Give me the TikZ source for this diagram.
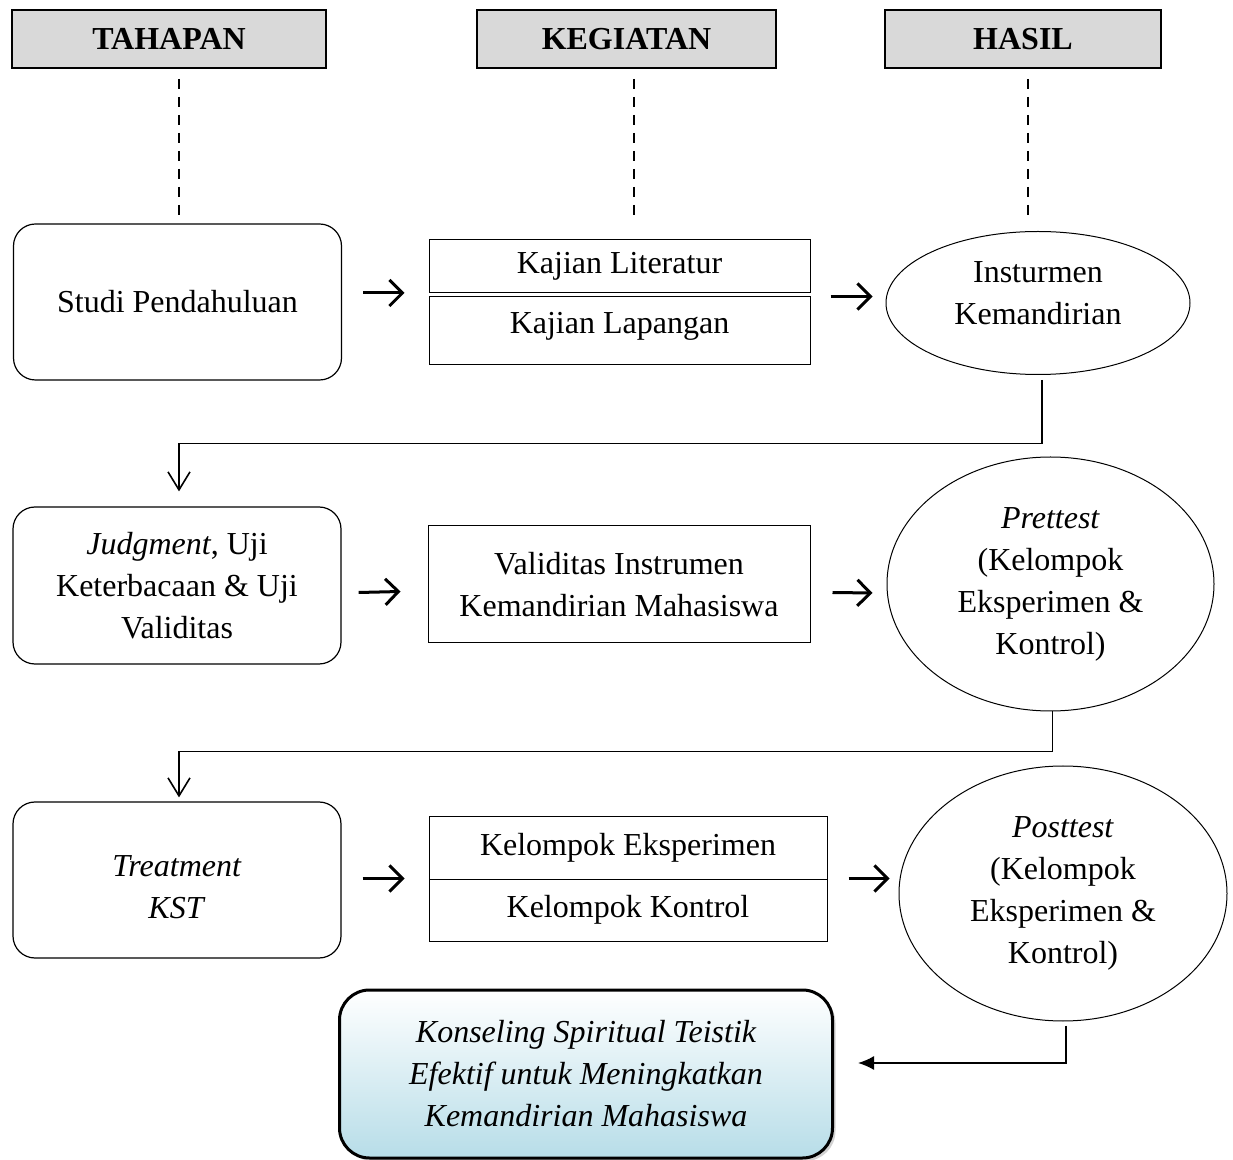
\documentclass[tikz,border=0pt]{standalone}
\usepackage{fontspec}
\setmainfont{Liberation Serif}
\usepackage{tikz}
\usetikzlibrary{
  arrows.meta,
  positioning,
  calc,
  shapes.geometric,
  shadows
}
\definecolor{headgray}{HTML}{D9D9D9}
\definecolor{paleblue}{HTML}{B7DDE8}

\begin{document}
\begin{tikzpicture}[
    x=0.5pt,
    y=-0.5pt,
    font=\fontsize{16}{21}\selectfont,
    header/.style={draw,line width=1pt,fill=headgray,font=\fontsize{16}{21}\selectfont\bfseries,minimum height=29pt,inner sep=0pt},
    stage/.style={draw,line width=0.6pt,rounded corners=11pt,align=center,minimum width=164pt,minimum height=78pt,inner sep=0pt},
    task/.style={draw,line width=0.5pt,align=center,inner sep=0pt},
    result/.style={draw,ellipse,line width=0.5pt,align=center,inner sep=0pt},
    caption/.style={align=center,inner sep=0pt},
    guide/.style={line width=1pt,dash pattern=on 5pt off 4pt},
    flow/.style={line width=1.5pt,-{Straight Barb[length=6.5pt,width=13pt]}},
    elbow/.style={line width=0.8pt,-{Straight Barb[length=9pt,width=11pt]}},
    >=Latex
    ]

    \useasboundingbox (0,0) rectangle (1233,1160);

    \node[header,minimum width=157pt] (tahapan) at (169,39) {TAHAPAN};
    \node[header,minimum width=149.5pt] (kegiatan) at (626.5,39) {KEGIATAN};
    \node[header,minimum width=138pt] (hasil) at (1023,39) {HASIL};

    \node[stage] (studi) at (177.5,302) {Studi Pendahuluan};
    \node[task,minimum width=190.5pt,minimum height=26.5pt] (literatur) at (619.5,266) {Kajian Literatur};
    \node[task,minimum width=190.5pt,minimum height=34pt] (lapangan) at (619.5,331) {};
    \node[caption] (lapangan-text) at (619.5,326) {Kajian Lapangan};
    \node[result,minimum width=152pt,minimum height=71.5pt] (instrumen) at (1038,303) {};
    \node[caption] (instrumen-text) at (1038,293.5) {Insturmen\\Kemandirian};

    \node[stage,minimum height=78.5pt] (judgment) at (177,585.5) {\textit{Judgment}, Uji\\Keterbacaan \& Uji\\Validitas};
    \node[task,minimum width=191pt,minimum height=58.5pt] (validitas) at (619,584.5) {Validitas Instrumen\\Kemandirian Mahasiswa};
    \node[result,minimum width=163.5pt,minimum height=127pt] (prettest) at (1050.5,584) {\textit{Prettest}\\(Kelompok\\Eksperimen \&\\Kontrol)};

    \node[stage] (treatment) at (177,880) {};
    \node[caption] (treatment-text) at (177,887) {\textit{Treatment}\\\textit{KST}};
    \node[task,minimum width=199pt,minimum height=31.5pt] (eksperimen) at (628,847.5) {Kelompok Eksperimen};
    \node[task,minimum width=199pt,minimum height=31pt] (kontrol) at (628,910) {Kelompok Kontrol};
    \node[result,minimum width=164pt,minimum height=127.5pt] (posttest) at (1063,893.5) {\textit{Posttest}\\(Kelompok\\Eksperimen \&\\Kontrol)};

    \node[stage,line width=1.5pt,rounded corners=15pt,minimum width=246.5pt,minimum height=84pt,
      top color=white,bottom color=paleblue,
      drop shadow={shadow xshift=1.5pt,shadow yshift=-1.5pt,fill=black!35},
      font=\fontsize{16}{21}\selectfont\itshape] (simpulan) at (586,1074)
      {Konseling Spiritual Teistik\\Efektif untuk Meningkatkan\\Kemandirian Mahasiswa};

    \draw[guide] ([xshift=5pt,yshift=-5pt]tahapan.south) -- ++(0,-70.5pt);
    \draw[guide] ([xshift=3.5pt,yshift=-5pt]kegiatan.south) -- ++(0,-70.5pt);
    \draw[guide] ([xshift=2.5pt,yshift=-5pt]hasil.south) -- ++(0,-70.5pt);

    \draw[flow] ([xshift=10.5pt]studi.east |- literatur.south) -- ([xshift=-12pt]literatur.west |- literatur.south);
    \draw[flow] ([xshift=10pt]literatur.east |- lapangan.north) -- ([xshift=-6.5pt]instrumen.west |- lapangan.north);

    \draw[flow] ([xshift=8.5pt,yshift=-3.5pt]judgment.east) -- ([xshift=-13.5pt,yshift=-3.5pt]validitas.west);
    \draw[flow] ([xshift=11pt,yshift=-4pt]validitas.east) -- ([xshift=-7pt,yshift=-4.5pt]prettest.west);

    \draw[flow] ([xshift=10.5pt]treatment.east |- kontrol.north) -- ([xshift=-12pt]eksperimen.west |- kontrol.north);
    \draw[flow] ([xshift=10.5pt]eksperimen.east |- kontrol.north) -- ([xshift=-4.5pt]posttest.west |- kontrol.north);

    \draw[elbow] ([xshift=2pt,yshift=-2.5pt]instrumen.south) |- ([xshift=1pt,yshift=31.5pt]judgment.north) -- ([xshift=1pt,yshift=7.5pt]judgment.north);
    \draw[elbow] ([xshift=1pt]prettest.south) |- ([xshift=1pt,yshift=25pt]treatment.north) -- ([xshift=1pt,yshift=2pt]treatment.north);
    \draw[line width=0.8pt,-{Latex[length=8pt,width=7pt]}] ([xshift=1.5pt,yshift=-2pt]posttest.south) |- ([xshift=12pt,yshift=5.5pt]simpulan.east);

    \end{tikzpicture}
\end{document}
